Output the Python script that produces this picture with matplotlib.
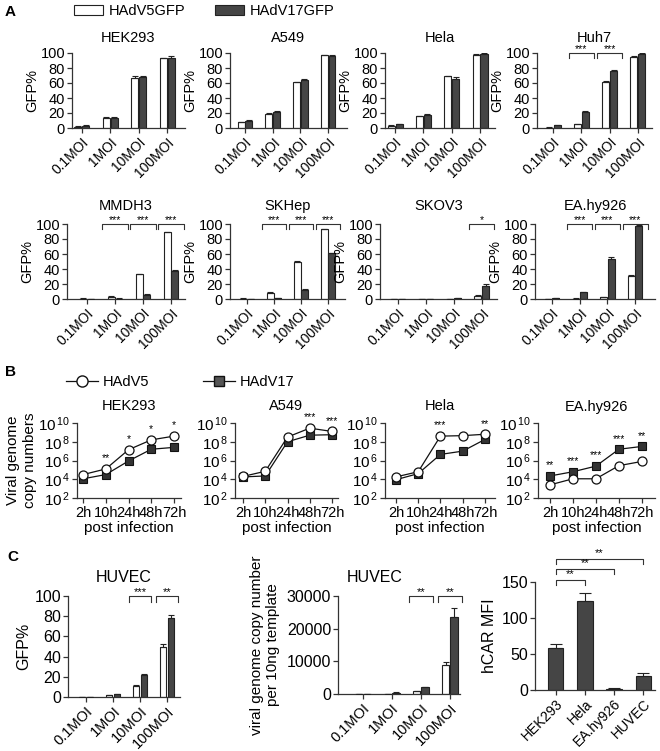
import matplotlib
matplotlib.use('Agg')
import matplotlib.pyplot as plt
import numpy as np
from matplotlib.patches import Patch
from matplotlib.lines import Line2D

plt.rcParams['font.family'] = ['Liberation Sans', 'DejaVu Sans']
plt.rcParams['mathtext.fontset'] = 'custom'
plt.rcParams['mathtext.rm'] = 'Liberation Sans'
plt.rcParams['mathtext.it'] = 'Liberation Sans:italic'
plt.rcParams['mathtext.bf'] = 'Liberation Sans:bold'

# ---------------- data ----------------
moi_labels = ['0.1MOI', '1MOI', '10MOI', '100MOI']
series_labels = ['HAdV5GFP', 'HAdV17GFP']

cells_A = ['HEK293', 'A549', 'Hela', 'Huh7', 'MMDH3', 'SKHep', 'SKOV3', 'EA.hy926']
gfp_v5 = [
    [2, 14, 67, 93],
    [8, 19, 61, 97],
    [3, 16, 69, 98],
    [0.5, 5, 62, 95],
    [0.5, 3, 33, 89],
    [0.5, 8, 50, 93],
    [0.1, 0.1, 0.3, 4],
    [0.3, 0.5, 2.5, 31],
]
gfp_v17 = [
    [3, 14, 68, 94],
    [10, 22, 64, 96],
    [5, 18, 65, 99],
    [4, 22, 76, 99],
    [0.2, 0.5, 6, 38],
    [0.2, 1, 12, 61],
    [0.1, 0.1, 1, 17],
    [1, 9, 53, 98],
]
gfp_v5_err = [
    [0.5, 0.5, 3, 1],
    [0.5, 0.8, 1, 0.5],
    [0.5, 0.5, 0.8, 0.5],
    [0.2, 0.5, 0.8, 0.8],
    [0.2, 0.5, 1, 0.8],
    [0.2, 0.8, 0.8, 0.8],
    [0.1, 0.1, 0.2, 1],
    [0.2, 0.2, 0.8, 1.5],
]
gfp_v17_err = [
    [0.8, 0.5, 1.5, 2],
    [0.8, 0.8, 1, 0.8],
    [0.8, 1, 2.5, 0.5],
    [0.5, 0.8, 1.5, 0.5],
    [0.1, 0.2, 0.8, 1],
    [0.1, 0.3, 1, 0.8],
    [0.1, 0.1, 0.5, 3],
    [0.3, 0.8, 2.5, 1],
]
sig_A = [
    [],
    [],
    [],
    [(1, '***'), (2, '***')],
    [(1, '***'), (2, '***'), (3, '***')],
    [(1, '***'), (2, '***'), (3, '***')],
    [(3, '*')],
    [(1, '***'), (2, '***'), (3, '***')],
]

time_labels = ['2h', '10h', '24h', '48h', '72h']
cells_B = ['HEK293', 'A549', 'Hela', 'EA.hy926']
log_copies_v5 = [
    [4.5, 5.1, 7.15, 8.2, 8.6],
    [4.3, 4.85, 8.5, 9.45, 9.1],
    [4.25, 4.8, 8.6, 8.65, 8.8],
    [3.4, 4.05, 4.05, 5.45, 5.9],
]
log_copies_v17 = [
    [4.05, 4.5, 5.95, 7.2, 7.4],
    [4.25, 4.35, 8.0, 8.7, 8.75],
    [3.95, 4.6, 6.65, 7.0, 8.25],
    [4.35, 4.8, 5.4, 7.2, 7.5],
]
sig_B = [
    [(1, '**'), (2, '*'), (3, '*'), (4, '*')],
    [(3, '***'), (4, '***')],
    [(2, '***'), (4, '**')],
    [(0, '**'), (1, '***'), (2, '***'), (3, '***'), (4, '**')],
]

huvec_gfp_v5 = [0.2, 1.5, 11, 50]
huvec_gfp_v17 = [0.2, 2.5, 22, 78]
huvec_gfp_v5_err = [0.1, 0.3, 1, 2]
huvec_gfp_v17_err = [0.1, 0.3, 0.5, 3]
huvec_gfp_sig = [(2, '***'), (3, '**')]

huvec_copy_v5 = [0, 100, 800, 9000]
huvec_copy_v17 = [0, 400, 2000, 23500]
huvec_copy_v5_err = [0, 50, 250, 800]
huvec_copy_v17_err = [0, 100, 200, 2700]
huvec_copy_sig = [(2, '**'), (3, '**')]

car_cells = ['HEK293', 'Hela', 'EA.hy926', 'HUVEC']
car_mfi = [58, 123, 2, 20]
car_err = [6, 12, 0.5, 3]
car_sig = [(1, '**', 153), (2, '**', 168), (3, '**', 182)]

# ---------------- helpers ----------------
W, H = 660, 751
fig = plt.figure(figsize=(W / 100, H / 100), dpi=100)
AX = '#333333'
DARK = '#454545'
FA = 10.5   # font size rows A/B
FC = 11.5   # font size row C


def pax(l, t, r, b):
    return fig.add_axes([l / W, 1 - b / H, (r - l) / W, (b - t) / H])


def style(ax, fs=FA):
    for s in ['top', 'right']:
        ax.spines[s].set_visible(False)
    for s in ['left', 'bottom']:
        ax.spines[s].set_color(AX)
        ax.spines[s].set_linewidth(0.9)
    ax.tick_params(axis='both', direction='out', length=3.5, width=0.9,
                   color=AX, labelsize=fs, pad=1.5)


def bracket(ax, x0, x1, ytop, drop, text, fs=7.5, tgap=0.0):
    ax.plot([x0, x0, x1, x1], [ytop - drop, ytop, ytop, ytop - drop],
            color=AX, lw=0.8, clip_on=False)
    ax.text((x0 + x1) / 2, ytop + tgap, text, ha='center', va='bottom',
            fontsize=fs, clip_on=False)


def bar_pair(ax, v5, v17, e5, e17, w=0.25, off=0.14, cap=2.2):
    x = np.arange(len(v5))
    ax.bar(x - off, v5, w, color='white', edgecolor='#222222', lw=0.8, zorder=2)
    ax.bar(x + off, v17, w, color=DARK, edgecolor='#222222', lw=0.8, zorder=2)
    ax.errorbar(x - off, v5, yerr=[np.zeros(len(e5)), e5], fmt='none',
                ecolor='#222222', elinewidth=0.8, capsize=cap, capthick=0.8, zorder=3)
    ax.errorbar(x + off, v17, yerr=[np.zeros(len(e17)), e17], fmt='none',
                ecolor='#222222', elinewidth=0.8, capsize=cap, capthick=0.8, zorder=3)
    ax.set_xticks(x)


# ---------------- panel A ----------------
layout_A = [
    (72, 53, 185, 128, (-0.35, 3.63)),
    (230, 53, 347, 128, (-0.54, 3.68)),
    (385, 53, 495, 128, (-0.36, 3.53)),
    (537, 53, 652, 128, (-0.57, 3.5)),
    (67, 224, 185, 299, (-0.71, 3.5)),
    (230, 224, 345, 299, (-0.63, 3.63)),
    (380, 224, 497, 299, (-0.64, 3.54)),
    (535, 224, 655, 299, (-0.61, 3.72)),
]
for i, cell in enumerate(cells_A):
    l, t, r, b, xl = layout_A[i]
    ax = pax(l, t, r, b)
    style(ax)
    bar_pair(ax, gfp_v5[i], gfp_v17[i], gfp_v5_err[i], gfp_v17_err[i])
    ax.set_xlim(*xl)
    ax.set_ylim(0, 100)
    ax.set_yticks([0, 20, 40, 60, 80, 100])
    ax.set_xticklabels(moi_labels, rotation=45, ha='right',
                       rotation_mode='anchor', fontsize=FA - 0.5)
    ax.set_ylabel('GFP%', fontsize=FA, labelpad=1)
    ax.set_title(cell, fontsize=FA, pad=8 if i < 4 else 10)
    for g, s in sig_A[i]:
        bracket(ax, g - 0.45, g + 0.45, 100, 7, s, fs=7.5, tgap=-1)

fig.legend(handles=[Patch(facecolor='white', edgecolor='#222222', lw=0.8),
                    Patch(facecolor=DARK, edgecolor='#222222', lw=0.8)],
           labels=series_labels, loc='upper left',
           bbox_to_anchor=(74 / W, 1 - 4 / H), ncol=2, frameon=False,
           fontsize=FA, handlelength=2.0, handleheight=0.7,
           handletextpad=0.4, columnspacing=2.0, borderpad=0, borderaxespad=0)

# ---------------- panel B ----------------
layout_B = [
    (77, 423, 181, 498, (-0.27, 4.31)),
    (235, 423, 338, 498, (-0.36, 4.27)),
    (385, 423, 495, 498, (-0.49, 4.45)),
    (538, 423, 655, 498, (-0.52, 4.57)),
]
for i, cell in enumerate(cells_B):
    l, t, r, b, xl = layout_B[i]
    ax = pax(l, t, r, b)
    style(ax)
    x = np.arange(len(time_labels))
    y5 = 10.0 ** np.array(log_copies_v5[i])
    y17 = 10.0 ** np.array(log_copies_v17[i])
    ax.plot(x, y17, '-s', color='#111111', lw=0.9, ms=6.2, mfc='#333333',
            mec='#111111', mew=0.8, zorder=3)
    ax.plot(x, y5, '-o', color='#111111', lw=0.9, ms=6.5, mfc='white',
            mec='#111111', mew=0.9, zorder=4)
    ax.set_yscale('log')
    ax.set_ylim(1e2, 1e10)
    ax.set_yticks([1e2, 1e4, 1e6, 1e8, 1e10])
    ax.set_yticklabels([r'$\mathregular{10^{\,%d}}$' % k for k in [2, 4, 6, 8, 10]],
                       fontsize=FA + 0.5)
    ax.minorticks_off()
    ax.set_xlim(*xl)
    ax.set_xticks(x)
    ax.set_xticklabels(time_labels, fontsize=FA)
    ax.tick_params(axis='x', pad=2)
    ax.set_xlabel('post infection', fontsize=FA + 0.5, labelpad=1)
    ax.set_title(cell, fontsize=FA, pad=9)
    if i == 0:
        ax.set_ylabel('Viral genome\ncopy numbers', fontsize=FA + 0.5, labelpad=1)
    for g, s in sig_B[i]:
        top = max(log_copies_v5[i][g], log_copies_v17[i][g])
        ax.text(g, 10 ** (top + 0.6), s, ha='center', va='bottom',
                fontsize=7.5, clip_on=False)

fig.legend(handles=[Line2D([], [], color='#111111', lw=0.9, marker='o', ms=8,
                           mfc='white', mec='#111111'),
                    Line2D([], [], color='#111111', lw=0.9, marker='s', ms=7.5,
                           mfc='#555555', mec='#111111')],
           labels=['HAdV5', 'HAdV17'], loc='upper left',
           bbox_to_anchor=(66 / W, 1 - 375 / H), ncol=2, frameon=False,
           fontsize=FA, handlelength=2.2, handletextpad=0.3,
           columnspacing=3.7, borderpad=0, borderaxespad=0)

# ---------------- panel C ----------------
ax = pax(68, 596, 180, 697)
style(ax, fs=FC)
bar_pair(ax, huvec_gfp_v5, huvec_gfp_v17, huvec_gfp_v5_err, huvec_gfp_v17_err,
         w=0.24, off=0.15, cap=2.2)
ax.set_xlim(-0.67, 3.48)
ax.set_ylim(0, 100)
ax.set_yticks([0, 20, 40, 60, 80, 100])
ax.set_xticklabels(moi_labels, rotation=45, ha='right', rotation_mode='anchor',
                   fontsize=10.5)
ax.set_ylabel('GFP%', fontsize=FC, labelpad=2)
ax.set_title('HUVEC', fontsize=FC, pad=10)
for g, s in huvec_gfp_sig:
    bracket(ax, g - 0.42, g + 0.42, 100, 6, s, fs=8, tgap=-1)

ax = pax(338, 596, 460, 694)
style(ax, fs=FC)
bar_pair(ax, huvec_copy_v5, huvec_copy_v17, huvec_copy_v5_err, huvec_copy_v17_err,
         w=0.26, off=0.15, cap=2.2)
ax.set_xlim(-0.86, 3.35)
ax.set_ylim(0, 30000)
ax.set_yticks([0, 10000, 20000, 30000])
ax.set_xticklabels(moi_labels, rotation=45, ha='right', rotation_mode='anchor',
                   fontsize=10.5)
ax.set_ylabel('viral genome copy number\nper 10ng template', fontsize=FC - 0.5,
              labelpad=5)
ax.set_title('HUVEC', fontsize=FC, pad=10, x=0.3)
for g, s in huvec_copy_sig:
    bracket(ax, g - 0.42, g + 0.42, 30000, 1800, s, fs=8, tgap=-300)

ax = pax(535, 582, 655, 690)
style(ax, fs=FC)
x = np.arange(len(car_cells))
ax.bar(x, car_mfi, 0.52, color=DARK, edgecolor='#222222', lw=0.8, zorder=2)
ax.errorbar(x, car_mfi, yerr=[np.zeros(len(car_err)), car_err], fmt='none',
            ecolor='#222222', elinewidth=0.8, capsize=4.5, capthick=0.8, zorder=3)
ax.set_xlim(-0.72, 3.41)
ax.set_ylim(0, 150)
ax.set_yticks([0, 50, 100, 150])
ax.set_xticks(x)
ax.set_xticklabels(car_cells, rotation=45, ha='right', rotation_mode='anchor',
                   fontsize=10)
ax.set_ylabel('hCAR MFI', fontsize=FC, labelpad=3)
for g, s, yb in car_sig:
    bracket(ax, 0, g, yb, 7, s, fs=8, tgap=1)

# panel letters
fig.text(5 / W, 1 - 12 / H, 'A', fontsize=11, fontweight='bold', va='center')
fig.text(5 / W, 1 - 372 / H, 'B', fontsize=11, fontweight='bold', va='center')
fig.text(7 / W, 1 - 557 / H, 'C', fontsize=11, fontweight='bold', va='center')

fig.savefig('out.png', dpi=100)
